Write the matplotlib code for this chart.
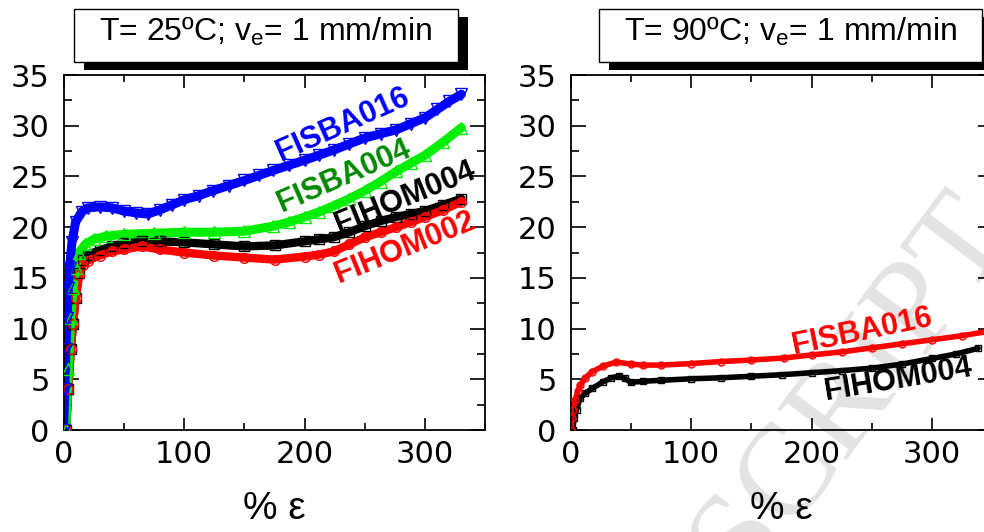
import matplotlib
matplotlib.use('Agg')
import matplotlib.pyplot as plt
from matplotlib.patches import Rectangle
from matplotlib.ticker import MultipleLocator

plt.rcParams['font.family'] = ['DejaVu Sans']
plt.rcParams['mathtext.fontset'] = 'custom'
plt.rcParams['mathtext.rm'] = 'Liberation Sans'
plt.rcParams['mathtext.it'] = 'Liberation Sans:italic'

# ---------------- data (left panel: T = 25 C) ----------------
fisba016_x = [0, 1, 2, 3, 4, 5, 7, 10, 15, 20, 30, 40, 50, 60, 70, 80, 90, 100, 112, 124,
              137, 150, 162, 174, 187, 200, 212, 224, 237, 250, 263, 276, 288, 300, 310, 320, 330]
fisba016_y = [0, 4, 8, 11, 14, 16, 18.5, 20.5, 21.5, 21.9, 22.0, 21.9, 21.6, 21.4, 21.3, 21.7, 22.2, 22.7, 23.1, 23.6,
              24.1, 24.6, 25.1, 25.6, 26.1, 26.6, 27.1, 27.6, 28.2, 28.8, 29.2, 29.6, 30.2, 30.8, 31.6, 32.4, 33.1]

fisba004_x = [2, 4, 6, 8, 10, 13, 18, 25, 35, 50, 75, 100, 125, 150, 174, 187, 200, 212, 224,
              237, 250, 263, 276, 288, 300, 315, 330]
fisba004_y = [0, 6, 11, 14, 16, 17.5, 18.3, 18.8, 19.1, 19.3, 19.4, 19.5, 19.5, 19.6, 20.1, 20.5, 21.0, 21.5, 22.1,
              22.8, 23.6, 24.5, 25.5, 26.3, 27.1, 28.4, 29.8]

fihom_x = [2, 4, 6, 8, 10, 13, 16, 20, 30, 40, 50, 65, 80, 100, 125, 150, 175, 200, 212, 224,
           237, 250, 263, 276, 288, 300, 315, 330]
fihom004_y = [0, 4, 8, 10.5, 13, 15.5, 16.8, 17.3, 17.7, 18.1, 18.4, 18.6, 18.6, 18.5, 18.3, 18.1, 18.2, 18.6, 18.8, 19.0,
              19.5, 20.1, 20.6, 21.0, 21.3, 21.6, 22.2, 22.8]
fihom002_y = [0, 4, 8, 10.5, 13, 15.3, 16.3, 16.7, 17.2, 17.6, 17.8, 18.1, 17.8, 17.5, 17.2, 17.0, 16.8, 17.1, 17.3, 17.6,
              18.3, 19.0, 19.5, 20.0, 20.5, 21.0, 21.7, 22.5]

# ---------------- data (right panel: T = 90 C) ----------------
hot_fisba016_x = [0, 1, 2, 4, 6, 8, 12, 18, 27, 38, 50, 60, 75, 100, 125, 150, 177, 200, 225, 250, 275, 300, 325, 350]
hot_fisba016_y = [0, 1.2, 2.0, 3.0, 3.8, 4.4, 5.1, 5.75, 6.3, 6.7, 6.5, 6.4, 6.4, 6.55, 6.75, 6.9, 7.1, 7.4, 7.7, 8.1, 8.5, 8.9, 9.3, 9.8]

hot_fihom004_x = [2, 3, 5, 8, 12, 18, 27, 34, 40, 45, 50, 60, 75, 100, 125, 150, 175, 200, 225, 250, 275, 300, 320, 338]
hot_fihom004_y = [0, 1.2, 2.0, 3.15, 3.6, 4.1, 4.75, 5.15, 5.3, 5.1, 4.7, 4.8, 4.9, 5.05, 5.15, 5.3, 5.45, 5.65, 5.85, 6.1, 6.5, 7.05, 7.5, 8.05]

titles = ["T= 25ºC; v$_{\\mathrm{e}}$= 1 mm/min", "T= 90ºC; v$_{\\mathrm{e}}$= 1 mm/min"]
xlabel = "% ε"

W, H = 984, 532
fig = plt.figure(figsize=(W / 100, H / 100), dpi=100)
fig.patch.set_facecolor('white')


def fx(x):
    return x / W


def fy(y):
    return 1 - y / H


# watermark (behind everything)
fig.text(fx(520), fy(841), "ACCEPTED MANUSCRIPT", rotation=53, rotation_mode='anchor',
         ha='center', va='center', fontsize=95, family='Liberation Serif',
         color='#e3e3e3', zorder=-5)

ax1 = fig.add_axes([fx(63.5), fy(430), 422 / W, 355 / H])
ax2 = fig.add_axes([fx(570.5), fy(430), 422 / W, 355 / H])


def band(ax, x, y, color, marker, ms, lw):
    ax.plot(x, y, color=color, lw=lw, solid_capstyle='round', solid_joinstyle='round', zorder=2, clip_on=True)
    ax.plot(x, y, ls='none', marker=marker, ms=ms, mfc='none', mec=color, mew=1.0, zorder=3)


band(ax1, fihom_x, fihom004_y, 'black', 's', 7, 6)
band(ax1, fihom_x, fihom002_y, '#ff0000', 'o', 7, 6)
band(ax1, fisba004_x, fisba004_y, '#00ee00', '^', 8, 6.5)
band(ax1, fisba016_x, fisba016_y, '#0000ff', 'v', 8, 6.5)

band(ax2, hot_fihom004_x, hot_fihom004_y, 'black', 's', 5, 4)
band(ax2, hot_fisba016_x, hot_fisba016_y, '#ff0000', 'o', 5, 4)

lab_kw = dict(family='Liberation Sans', fontweight='bold', fontsize=22,
              ha='center', va='center', rotation_mode='anchor', zorder=5)
ax1.text(232, 30.1, "FISBA016", color='#0000ff', rotation=24, **lab_kw)
ax1.text(233, 25.0, "FISBA004", color='#008a00', rotation=23.5, **lab_kw)
ax1.text(283, 22.9, "FIHOM004", color='black', rotation=22, **lab_kw)
ax1.text(283.5, 18.0, "FIHOM002", color='#ff0000', rotation=22, **lab_kw)

ax2.text(242, 9.65, "FISBA016", color='#ff0000', rotation=11.7, **lab_kw)
ax2.text(272, 4.9, "FIHOM004", color='black', rotation=9.5, **lab_kw)

for ax in (ax1, ax2):
    ax.patch.set_alpha(0)
    ax.set_xlim(0, 350)
    ax.set_ylim(0, 35)
    ax.xaxis.set_major_locator(MultipleLocator(100))
    ax.xaxis.set_minor_locator(MultipleLocator(50))
    ax.yaxis.set_major_locator(MultipleLocator(5))
    ax.yaxis.set_minor_locator(MultipleLocator(2.5))
    ax.tick_params(axis='x', which='major', direction='in', length=9, width=1.2,
                   top=True, bottom=True, labelsize=22, pad=7)
    ax.tick_params(axis='x', which='minor', direction='in', length=5, width=1.2,
                   top=True, bottom=True)
    ax.tick_params(axis='y', which='major', direction='in', length=11, width=1.2,
                   left=True, right=True, labelsize=22, pad=10)
    ax.tick_params(axis='y', which='minor', direction='in', length=6, width=1.2,
                   left=True, right=True)
    for s in ax.spines.values():
        s.set_linewidth(1.3)
    ax.text(0.5, -0.222, xlabel, transform=ax.transAxes, ha='center', va='center',
            fontsize=28, family='Liberation Sans')


def title_box(x0, x1, y0, y1, text):
    w = (x1 - x0) / W
    h = (y1 - y0) / H
    fig.add_artist(Rectangle((fx(x0 + 10), fy(y1 + 8)), w, h, transform=fig.transFigure,
                             facecolor='black', edgecolor='none', zorder=5))
    fig.add_artist(Rectangle((fx(x0), fy(y1)), w, h, transform=fig.transFigure,
                             facecolor='white', edgecolor='black', lw=1.0, zorder=6))
    fig.text(fx((x0 + x1) / 2), fy(41), text, ha='center', va='baseline',
             fontsize=23, family='Liberation Sans', zorder=7)


title_box(74.3, 457.5, 9, 62, titles[0])
title_box(599, 981.7, 9, 62, titles[1])

fig.savefig('out.png', dpi=100)
